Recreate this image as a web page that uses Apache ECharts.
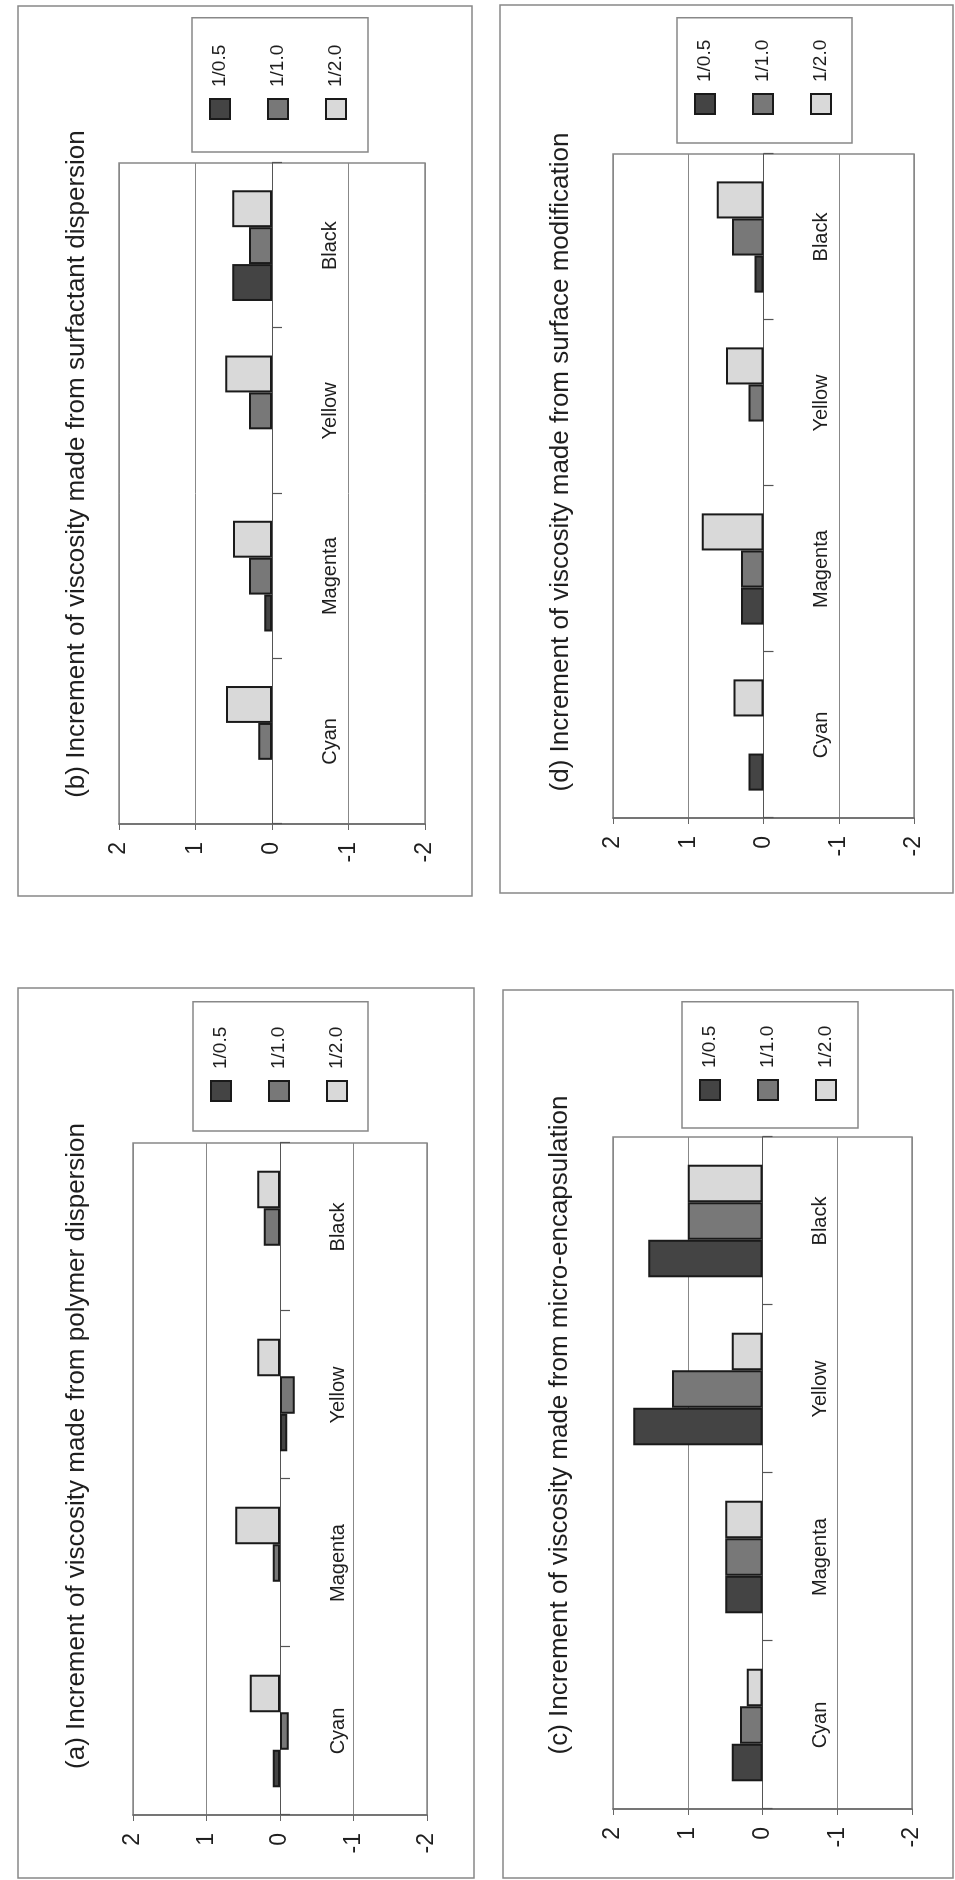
<!DOCTYPE html>
<html>
<head>
<meta charset="utf-8">
<title>Increment of viscosity</title>
<script src="https://cdn.jsdelivr.net/npm/echarts@6/dist/echarts.min.js"></script>
<style>
  html, body { margin: 0; padding: 0; background: #ffffff; }
  #page { position: relative; width: 955px; height: 1880px; overflow: hidden; background: #ffffff; }
  /* the four panels are laid out landscape and the sheet is turned a quarter turn */
  #chart {
    position: absolute; left: 0; top: 0;
    width: 1880px; height: 955px;
    transform-origin: 0 0;
    transform: translate(0px, 1880px) rotate(-90deg);
  }
</style>
</head>
<body>
<div id="page"><div id="chart"></div></div>
<script>
// ---- data ----
const categories = ['Cyan', 'Magenta', 'Yellow', 'Black'];
const seriesNames = ['1/0.5', '1/1.0', '1/2.0'];
const valueTicks = [-2, -1, 0, 1, 2];

const titles = [
  '(a) Increment of viscosity made from polymer dispersion',
  '(b) Increment of viscosity made from surfactant dispersion',
  '(c) Increment of viscosity made from micro-encapsulation',
  '(d) Increment of viscosity made from surface modification'
];

// (a) polymer dispersion
const polymer05 = [0.1, null, -0.1, null];
const polymer10 = [-0.12, 0.1, -0.2, 0.22];
const polymer20 = [0.41, 0.61, 0.31, 0.31];
// (b) surfactant dispersion
const surfactant05 = [null, 0.1, null, 0.52];
const surfactant10 = [0.18, 0.3, 0.3, 0.3];
const surfactant20 = [0.6, 0.51, 0.61, 0.52];
// (c) micro-encapsulation
const encaps05 = [0.41, 0.5, 1.73, 1.53];
const encaps10 = [0.3, 0.5, 1.21, 1.0];
const encaps20 = [0.21, 0.5, 0.41, 1.0];
// (d) surface modification
const surface05 = [0.2, 0.3, null, 0.12];
const surface10 = [null, 0.3, 0.2, 0.42];
const surface20 = [0.4, 0.82, 0.5, 0.62];

const panelData = [
  [polymer05, polymer10, polymer20],
  [surfactant05, surfactant10, surfactant20],
  [encaps05, encaps10, encaps20],
  [surface05, surface10, surface20]
];

// ---- layout (landscape sheet, 1880 x 955) ----
const FONT = '"Liberation Sans", Arial, Helvetica, sans-serif';
const fills = ['#444444', '#787878', '#d9d9d9'];
const frameColor = '#888888';
const labelGap = 48; // category names sit this far below the zero line

const panels = [
  { box: [2, 18, 890, 456],    grid: [65, 133, 672, 294],   legend: [749, 193, [17, 25, 20, 29]],  title: [434, 77] },
  { box: [984, 18, 890, 454],  grid: [1056, 119, 661, 306], legend: [1728, 192, [17, 27, 21, 32]], title: [1416, 77] },
  { box: [2, 503, 888, 450],   grid: [71, 613, 672, 299],   legend: [752, 682, [17, 24, 21, 27]],  title: [455, 560] },
  { box: [987, 500, 888, 453], grid: [1062, 613, 664, 301], legend: [1737, 677, [17, 22, 20, 28]], title: [1418, 561] }
];

const chart = echarts.init(document.getElementById('chart'), null, { renderer: 'canvas' });

const option = {
  backgroundColor: '#ffffff',
  animation: false,
  textStyle: { fontFamily: FONT },
  title: [],
  legend: [],
  grid: [],
  xAxis: [],
  yAxis: [],
  series: [],
  graphic: []
};

panels.forEach((p, i) => {
  option.graphic.push({
    type: 'rect',
    shape: { x: p.box[0], y: p.box[1], width: p.box[2], height: p.box[3] },
    style: { fill: 'none', stroke: frameColor, lineWidth: 1.5 },
    z: 0
  });

  option.title.push({
    text: titles[i],
    left: p.title[0],
    top: p.title[1] - 16,
    textAlign: 'center',
    padding: 0,
    textStyle: { fontFamily: FONT, fontSize: 26, fontWeight: 'normal', color: '#1e1e1e', lineHeight: 32 }
  });

  option.legend.push({
    data: seriesNames,
    orient: 'vertical',
    left: p.legend[0],
    top: p.legend[1],
    padding: p.legend[2],
    itemGap: 36,
    itemWidth: 20,
    itemHeight: 20,
    icon: 'rect',
    selectedMode: false,
    borderColor: frameColor,
    borderWidth: 1.5,
    itemStyle: { borderColor: '#1a1a1a', borderWidth: 2 },
    textStyle: { fontFamily: FONT, fontSize: 19, color: '#1e1e1e', padding: [0, 0, 0, 7] }
  });

  option.grid.push({
    left: p.grid[0], top: p.grid[1], width: p.grid[2], height: p.grid[3],
    show: true, borderColor: frameColor, borderWidth: 1.5, backgroundColor: 'transparent',
    containLabel: false
  });

  // the category axis runs along value 0; its labels are measured from the grid edge,
  // so pull them back up to just below the zero line
  const zeroToEdge = p.grid[3] / 2;
  option.xAxis.push({
    gridIndex: i,
    type: 'category',
    data: categories,
    axisLine: { show: true, onZero: true, lineStyle: { color: '#555555', width: 1.2 } },
    axisTick: { show: true, inside: false, length: 10, lineStyle: { color: '#555555', width: 1.2 } },
    axisLabel: { fontFamily: FONT, fontSize: 20, color: '#1e1e1e', margin: labelGap - zeroToEdge, hideOverlap: false },
    splitLine: { show: false }
  });

  option.yAxis.push({
    gridIndex: i,
    type: 'value',
    min: valueTicks[0],
    max: valueTicks[valueTicks.length - 1],
    interval: valueTicks[1] - valueTicks[0],
    axisLine: { show: true, lineStyle: { color: '#666666', width: 1.5 } },
    axisTick: { show: true, length: 6, lineStyle: { color: '#666666' } },
    axisLabel: { fontFamily: FONT, fontSize: 23, color: '#1e1e1e', margin: 18 },
    splitLine: { show: true, lineStyle: { color: '#888888', width: 1 } }
  });

  panelData[i].forEach((values, s) => {
    option.series.push({
      name: seriesNames[s],
      type: 'bar',
      xAxisIndex: i,
      yAxisIndex: i,
      data: values,
      barGap: '0%',
      barCategoryGap: '33%',
      itemStyle: { color: fills[s], borderColor: '#1a1a1a', borderWidth: 2 },
      emphasis: { disabled: true }
    });
  });
});

chart.setOption(option);
</script>
</body>
</html>
